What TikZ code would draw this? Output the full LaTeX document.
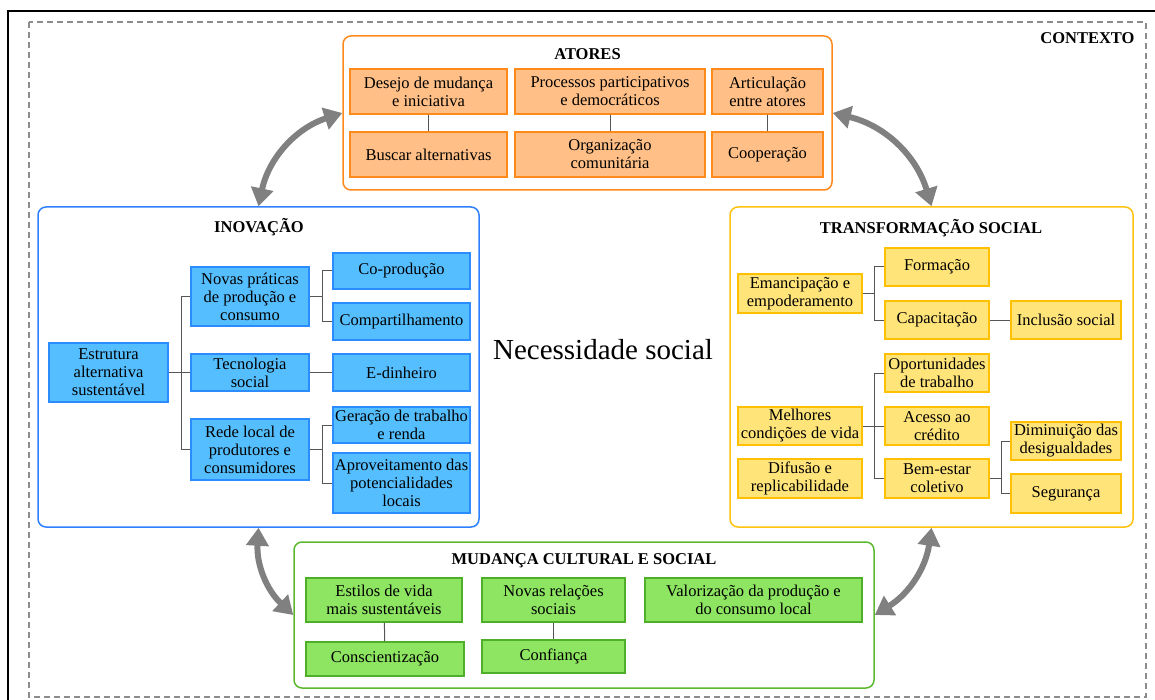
\documentclass[tikz,border=0pt]{standalone}
\usepackage{fontspec}
\setmainfont{Liberation Serif}
\usepackage{tikz}
\usetikzlibrary{arrows.meta}
\definecolor{AtorFrame}{HTML}{FF8A1C}
\definecolor{AtorFill}{HTML}{FFBF86}
\definecolor{InovFrame}{HTML}{2F80FF}
\definecolor{InovFill}{HTML}{55BEFF}
\definecolor{InovEdge}{HTML}{2B8CFF}
\definecolor{TransfFrame}{HTML}{FFC20E}
\definecolor{TransfFill}{HTML}{FFE47A}
\definecolor{TransfEdge}{HTML}{FFC000}
\definecolor{CultFrame}{HTML}{5CB82E}
\definecolor{CultFill}{HTML}{8DE562}
\definecolor{CultEdge}{HTML}{4FAF2A}
\definecolor{LinkGray}{HTML}{555555}
\definecolor{ArrowGray}{HTML}{808080}
\definecolor{ContextGray}{HTML}{8C8C8C}

\begin{document}
\begin{tikzpicture}[x=1pt, y=-1pt, node distance=63pt, every node/.style={font=\fontsize{16.5}{18}\selectfont}]
  \tikzstyle{frame}=[rectangle, rounded corners=8pt, line width=1.5pt, inner sep=0pt]
  \tikzstyle{box}=[rectangle, line width=1.5pt, inner sep=0pt, align=center]
  \tikzstyle{ator}=[box, draw=AtorFrame, fill=AtorFill]
  \tikzstyle{inov}=[box, draw=InovEdge, fill=InovFill, minimum width=118pt]
  \tikzstyle{transf}=[box, draw=TransfEdge, fill=TransfFill, minimum width=104pt, minimum height=38pt]
  \tikzstyle{cult}=[box, draw=CultEdge, fill=CultFill]
  \tikzstyle{title}=[font=\fontsize{16.5}{18}\selectfont\bfseries]
  \tikzstyle{link}=[draw=LinkGray, line width=1pt]
  \tikzstyle{cyclearrow}=[draw=ArrowGray, line width=6pt, {Triangle[length=18pt,width=22pt]}-{Triangle[length=18pt,width=22pt]}]
  \useasboundingbox (0,0) rectangle (1155,700);
  \draw[line width=1.5pt] (8,700) -- (8,11) -- (1155,11);
  \draw[ContextGray, line width=1.5pt, dash pattern=on 6pt off 4pt] (29,22) rectangle (1146,697);
  \node[title, anchor=east] (contexto) at (1138,38) {CONTEXTO};
  \node[font=\fontsize{29}{34}\selectfont] (necessidade) at (603,350) {Necessidade social};

  \node[frame, draw=AtorFrame, minimum width=489pt, minimum height=154pt] (atores) at (587.5,113) {};
  \node[title] (atorestitle) at (587.5,54) {ATORES};
  \node[ator, minimum width=157pt, minimum height=45pt] (desejo) at (428.5,91.5) {Desejo de mudança\\e iniciativa};
  \node[ator, minimum width=157pt, minimum height=45pt, below of=desejo] (buscar) {Buscar alternativas};
  \node[ator, minimum width=190pt, minimum height=45pt] (processos) at (610,91.5) {Processos participativos\\e democráticos};
  \node[ator, minimum width=190pt, minimum height=45pt, below of=processos] (organizacao) {Organização\\comunitária};
  \node[ator, minimum width=111pt, minimum height=45pt] (articulacao) at (767.5,91.5) {Articulação\\entre atores};
  \node[ator, minimum width=111pt, minimum height=45pt, below of=articulacao] (cooperacao) {Cooperação};
  \draw[link] (desejo) -- (buscar);
  \draw[link] (processos) -- (organizacao);
  \draw[link] (articulacao) -- (cooperacao);

  \node[frame, draw=InovFrame, minimum width=441pt, minimum height=320pt] (inovacao) at (258.5,367) {};
  \node[title] (inovacaotitle) at (259,227) {INOVAÇÃO};
  \node[inov, minimum width=119pt, minimum height=59pt] (estrutura) at (108.5,372.5) {Estrutura\\alternativa\\sustentável};
  \node[inov, minimum height=59pt] (novas) at (250,296.5) {Novas práticas\\de produção e\\consumo};
  \node[inov, minimum height=37pt] (tecnologia) at (250,372.5) {Tecnologia\\social};
  \node[inov, minimum height=61pt] (rede) at (250,449.5) {Rede local de\\produtores e\\consumidores};
  \node[inov, minimum width=137pt, minimum height=36pt] (coproducao) at (401.5,271) {Co-produção};
  \node[inov, minimum width=137pt, minimum height=37pt] (compartilhamento) at (401.5,321.5) {Compartilhamento};
  \node[inov, minimum width=137pt, minimum height=37pt] (edinheiro) at (401.5,372.5) {E-dinheiro};
  \node[inov, minimum width=137pt, minimum height=36pt] (geracao) at (401.5,425) {Geração de trabalho\\e renda};
  \node[inov, minimum width=137pt, minimum height=60pt] (aproveitamento) at (401.5,483) {Aproveitamento das\\potencialidades\\locais};
  \draw[link] (estrutura.east) -- ([xshift=13pt]estrutura.east) |- (novas.west);
  \draw[link] (estrutura.east) -- (tecnologia.west);
  \draw[link] (estrutura.east) -- ([xshift=13pt]estrutura.east) |- (rede.west);
  \draw[link] (novas.east) -- ([xshift=13pt]novas.east) |- (coproducao.west);
  \draw[link] (novas.east) -- ([xshift=13pt]novas.east) |- (compartilhamento.west);
  \draw[link] (tecnologia) -- (edinheiro);
  \draw[link] (rede.east) -- ([xshift=13pt]rede.east) |- (geracao.west);
  \draw[link] (rede.east) -- ([xshift=13pt]rede.east) |- (aproveitamento.west);

  \node[frame, draw=TransfFrame, minimum width=403pt, minimum height=320pt] (transformacao) at (931.5,367) {};
  \node[title] (transformacaotitle) at (931,228) {TRANSFORMAÇÃO SOCIAL};
  \node[transf, minimum width=124pt, minimum height=39pt] (emancipacao) at (800,293.5) {Emancipação e\\empoderamento};
  \node[transf] (formacao) at (937,267) {Formação};
  \node[transf] (capacitacao) at (937,320) {Capacitação};
  \node[transf, minimum width=110pt] (inclusao) at (1066,320) {Inclusão social};
  \node[transf] (oportunidades) at (937,373) {Oportunidades\\de trabalho};
  \node[transf, minimum width=124pt] (melhores) at (800,426) {Melhores\\condições de vida};
  \node[transf] (acesso) at (937,426) {Acesso ao\\crédito};
  \node[transf, minimum width=124pt, minimum height=39pt] (difusao) at (800,478.5) {Difusão e\\replicabilidade};
  \node[transf, minimum height=39pt] (bemestar) at (937,478.5) {Bem-estar\\coletivo};
  \node[transf, minimum width=110pt] (diminuicao) at (1066,441) {Diminuição das\\desigualdades};
  \node[transf, minimum width=110pt, minimum height=39pt] (seguranca) at (1066,493.5) {Segurança};
  \draw[link] (emancipacao.east) -- ([xshift=12pt]emancipacao.east) |- (formacao.west);
  \draw[link] (emancipacao.east) -- ([xshift=12pt]emancipacao.east) |- (capacitacao.west);
  \draw[link] (capacitacao) -- (inclusao);
  \draw[link] (melhores.east) -- ([xshift=12pt]melhores.east) |- (oportunidades.west);
  \draw[link] (melhores.east) -- (acesso.west);
  \draw[link] (melhores.east) -- ([xshift=12pt]melhores.east) |- (bemestar.west);
  \draw[link] (bemestar.east) -- ([xshift=12pt]bemestar.east) |- (diminuicao.west);
  \draw[link] (bemestar.east) -- ([xshift=12pt]bemestar.east) |- (seguranca.west);

  \node[frame, draw=CultFrame, minimum width=580pt, minimum height=146pt] (mudanca) at (584,615) {};
  \node[title] (mudancatitle) at (584,561) {MUDANÇA CULTURAL E SOCIAL};
  \node[cult, minimum width=156pt, minimum height=44pt] (estilos) at (384,600) {Estilos de vida\\mais sustentáveis};
  \node[cult, minimum width=158pt, minimum height=34pt] (conscientizacao) at (385,659) {Conscientização};
  \node[cult, minimum width=143pt, minimum height=44pt] (relacoes) at (553.5,600) {Novas relações\\sociais};
  \node[cult, minimum width=143pt, minimum height=33pt] (confianca) at (553.5,656.5) {Confiança};
  \node[cult, minimum width=217pt, minimum height=44pt] (valorizacao) at (753.5,600) {Valorização da produção e\\do consumo local};
  \draw[link] (estilos) -- (conscientizacao);
  \draw[link] (relacoes) -- (confianca);

  \draw[cyclearrow] (inovacao.north) to[bend left=30] (atores.west);
  \draw[cyclearrow] (atores.east) to[bend left=30] (transformacao.north);
  \draw[cyclearrow] (inovacao.south) to[bend right=25] (mudanca.west);
  \draw[cyclearrow] (mudanca.east) to[bend right=25] (transformacao.south);
\end{tikzpicture}
\end{document}
